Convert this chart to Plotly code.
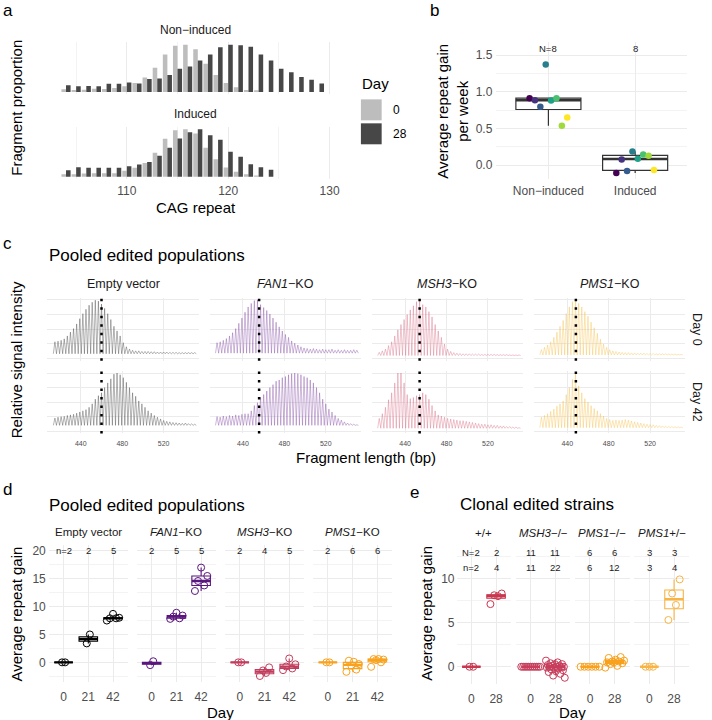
import numpy as np
import plotly.graph_objects as go

# ======================= DATA =======================
# --- panel a: fragment proportions per CAG repeat length
cag_repeat = list(range(104, 130))
nonind_day0 = [0.008, 0.006, 0.007, 0.010, 0.009, 0.012, 0.017, 0.027, 0.044, 0.073, 0.113, 0.140, 0.143,
               0.129, 0.085, 0.051, 0.027, 0.014, 0.006, 0.005, 0, 0, 0, 0, 0, 0]
nonind_day28 = [0.020, 0.017, 0.018, 0.017, 0.025, 0.025, 0.029, 0.026, 0.039, 0.041, 0.051, 0.070, 0.077,
                0.095, 0.113, 0.135, 0.143, 0.141, 0.137, 0.113, 0.095, 0.070, 0.060, 0.045, 0.037, 0.026]
ind_day0 = [0.008, 0.008, 0.010, 0.011, 0.011, 0.011, 0.018, 0.027, 0.042, 0.073, 0.115, 0.141, 0.144,
            0.131, 0.088, 0.053, 0.028, 0.015, 0.008, 0.004, 0, 0, 0, 0, 0, 0]
ind_day28 = [0.020, 0.029, 0.027, 0.027, 0.027, 0.027, 0.032, 0.037, 0.045, 0.064, 0.088, 0.116, 0.135,
             0.144, 0.126, 0.112, 0.076, 0.061, 0.038, 0.029, 0.021, 0, 0, 0, 0, 0]
a_facets = ["Non−induced", "Induced"]
a_days = ["0", "28"]

# --- panel b: average repeat gain per week (8 lines, viridis colours)
b_groups = ["Non−induced", "Induced"]
b_noninduced = [0.914, 0.886, 0.795, 1.373, 0.882, 0.914, 0.536, 0.650]
b_induced = [-0.109, 0.077, -0.082, 0.186, 0.086, 0.145, 0.127, -0.068]

# --- panel c: capillary traces, peak heights every 3 bp
fragment_bp = list(range(415, 551, 3))
c_genes = ["Empty vector", "<i>FAN1</i>−KO", "<i>MSH3</i>−KO", "<i>PMS1</i>−KO"]
c_days = ["Day 0", "Day 42"]
empty_day0 = [0.285, 0.296, 0.31, 0.335, 0.385, 0.45, 0.51, 0.59, 0.68, 0.765, 0.84, 0.91, 0.96, 0.995, 0.98,
              0.93, 0.855, 0.765, 0.665, 0.55, 0.47, 0.385, 0.27, 0.2, 0.16, 0.14, 0.13, 0.13, 0.12, 0.12,
              0.12, 0.115, 0.115, 0.11, 0.11, 0.11, 0.11, 0.105, 0.105, 0.105, 0.1, 0.1, 0.1, 0.1, 0.1, 0.1]
empty_day42 = [0.225, 0.24, 0.25, 0.255, 0.27, 0.28, 0.29, 0.31, 0.33, 0.35, 0.37, 0.41, 0.47, 0.55, 0.61,
               0.66, 0.75, 0.83, 0.9, 0.98, 1.0, 0.97, 0.92, 0.84, 0.75, 0.66, 0.6, 0.52, 0.47, 0.41,
               0.35, 0.31, 0.27, 0.24, 0.21, 0.185, 0.17, 0.16, 0.15, 0.145, 0.14, 0.135, 0.14, 0.13, 0.125, 0.12]
fan1_day0 = [0.27, 0.285, 0.31, 0.34, 0.385, 0.44, 0.51, 0.6, 0.69, 0.79, 0.88, 0.94, 0.99, 1.0, 0.92,
             0.87, 0.82, 0.76, 0.69, 0.62, 0.54, 0.47, 0.41, 0.36, 0.3, 0.26, 0.23, 0.2, 0.18, 0.17,
             0.16, 0.17, 0.16, 0.15, 0.16, 0.15, 0.15, 0.16, 0.14, 0.15, 0.14, 0.15, 0.14, 0.14, 0.15, 0.14]
fan1_day42 = [0.25, 0.24, 0.26, 0.25, 0.27, 0.26, 0.28, 0.27, 0.29, 0.3, 0.3, 0.35, 0.44, 0.49, 0.58,
              0.63, 0.69, 0.75, 0.8, 0.86, 0.88, 0.92, 0.94, 0.97, 0.99, 1.0, 0.99, 0.97, 0.94, 0.92,
              0.88, 0.83, 0.75, 0.66, 0.55, 0.47, 0.38, 0.33, 0.27, 0.22, 0.19, 0.16, 0.14, 0.13, 0.12, 0.11]
msh3_day0 = [0.105, 0.13, 0.16, 0.22, 0.285, 0.385, 0.49, 0.58, 0.665, 0.75, 0.83, 0.9, 0.97, 1.0, 0.92,
             0.88, 0.8, 0.71, 0.58, 0.47, 0.36, 0.245, 0.16, 0.12, 0.1, 0.09, 0.085, 0.08, 0.08, 0.08,
             0.075, 0.075, 0.075, 0.07, 0.07, 0.07, 0.07, 0.07, 0.065, 0.065, 0.065, 0.065, 0.06, 0.06, 0.06, 0.06]
msh3_day42 = [0.22, 0.3, 0.41, 0.54, 0.66, 0.83, 1.0, 1.0, 0.83, 0.63, 0.56, 0.58, 0.61, 0.63, 0.66,
              0.63, 0.55, 0.44, 0.35, 0.28, 0.26, 0.24, 0.22, 0.21, 0.2, 0.19, 0.18, 0.18, 0.17, 0.16,
              0.15, 0.14, 0.13, 0.12, 0.12, 0.11, 0.11, 0.1, 0.1, 0.09, 0.09, 0.08, 0.08, 0.07, 0.07, 0.06]
pms1_day0 = [0.15, 0.19, 0.23, 0.285, 0.36, 0.45, 0.55, 0.65, 0.765, 0.88, 0.97, 1.0, 0.94, 0.88, 0.8,
             0.72, 0.62, 0.525, 0.43, 0.33, 0.245, 0.19, 0.15, 0.13, 0.12, 0.11, 0.105, 0.1, 0.1, 0.095,
             0.095, 0.09, 0.09, 0.09, 0.085, 0.085, 0.085, 0.08, 0.08, 0.08, 0.08, 0.075, 0.075, 0.075, 0.07, 0.07]
pms1_day42 = [0.24, 0.27, 0.3, 0.34, 0.38, 0.43, 0.47, 0.52, 0.63, 0.75, 0.89, 1.0, 0.78, 0.66, 0.56,
              0.5, 0.44, 0.39, 0.35, 0.3, 0.26, 0.22, 0.2, 0.185, 0.19, 0.185, 0.19, 0.2, 0.19, 0.175,
              0.16, 0.15, 0.14, 0.13, 0.12, 0.115, 0.11, 0.1, 0.095, 0.09, 0.085, 0.08, 0.08, 0.075, 0.075, 0.07]
c_peaks = [[empty_day0, empty_day42], [fan1_day0, fan1_day42], [msh3_day0, msh3_day42], [pms1_day0, pms1_day42]]
c_baseline = [[0.08, 0.10], [0.09, 0.10], [0.05, 0.05], [0.06, 0.06]]
c_reference_bp = [460.0, 455.6, 454.0, 448.3]

# --- panel d: pooled populations, repeat gain per day
d_genes = ["Empty vector", "<i>FAN1</i>−KO", "<i>MSH3</i>−KO", "<i>PMS1</i>−KO"]
d_days = ["0", "21", "42"]
d_values = [
    [[0.0, 0.0], [3.4, 5.0], [7.5, 7.9, 7.9, 8.0, 8.7]],
    [[-0.5, 0.2], [7.8, 7.9, 8.2, 8.4, 8.9], [12.8, 13.8, 14.6, 15.5, 17.0]],
    [[0.0, 0.0], [-2.45, -1.9, -1.45, -0.9], [-1.4, -1.1, -0.75, -0.35, 0.7]],
    [[0.0, 0.0], [-1.7, -1.3, -0.6, -0.3, 0.1, 0.3], [-0.8, 0.0, 0.4, 0.5, 0.6, 0.6]],
]

# --- panel e: clonal strains
e_genotypes = ["+/+", "<i>MSH3</i>−/−", "<i>PMS1</i>−/−", "<i>PMS1</i>+/−"]
e_days = ["0", "28"]
e_values = [
    [[0.0, 0.0], [7.1, 8.0, 8.1, 8.3]],
    [[0.0, 0.0, 0.0, 0.0, 0.0, 0.0, 0.0, 0.0, 0.0, 0.0, 0.0],
     [0.7, 0.5, 0.4, 0.3, 0.3, 0.2, 0.1, 0.1, 0.0, 0.0, 0.0, 0.0, -0.1, -0.1, -0.2, -0.3, -0.4, -0.5,
      -0.6, -0.8, -1.0, -1.25]],
    [[0.0, 0.0, 0.0, 0.0, 0.0, 0.0], [-0.1, 0.1, 0.3, 0.4, 0.5, 0.5, 0.6, 0.6, 0.7, 0.8, 1.0, 1.1]],
    [[0.0, 0.0, 0.0], [5.3, 7.0, 8.3, 9.9]],
]
e_strains = [[2, 2], [11, 11], [6, 6], [3, 3]]

# ======================= STYLE =======================
W, H = 712, 720
FONT = "Liberation Sans, Arial, Helvetica, sans-serif"
GRID = "#EBEBEB"
TICKC = "#4D4D4D"
STRIPC = "#1A1A1A"
VIRIDIS8 = ["#440154", "#46337E", "#365C8D", "#277F8E", "#1FA187", "#4AC16D", "#9FDA3A", "#FDE725"]
D_COLORS = ["#000000", "#5A167E", "#C23D5C", "#F9A21E"]
C_COLORS = ["#333333", "#7A3C9E", "#D4607A", "#F5BA3C"]
E_COLORS = ["#C9374F", "#C73D5B", "#F9A11C", "#F8B444"]
DAY_GREYS = ["#BDBDBD", "#474747"]

fig = go.Figure()
axes_layout = {}
annotations = []
shapes = []
_n = [0]


def new_axes(x0, x1, y0, y1, xr, yr, xopt=None, yopt=None):
    _n[0] += 1
    s = "" if _n[0] == 1 else str(_n[0])
    base = dict(showline=False, zeroline=False, ticks="", showgrid=True, gridcolor=GRID, gridwidth=1,
                tickfont=dict(size=12, color=TICKC, family=FONT), fixedrange=True)
    xa = dict(base, domain=[x0 / W, x1 / W], range=xr, anchor="y" + s)
    ya = dict(base, domain=[1 - y1 / H, 1 - y0 / H], range=yr, anchor="x" + s)
    xa.update(xopt or {})
    ya.update(yopt or {})
    axes_layout["xaxis" + s] = xa
    axes_layout["yaxis" + s] = ya
    return "x" + s, "y" + s


def label(text, x, y, size, anchor="center", color="#000000", angle=0, xref="paper", yref="paper"):
    if xref == "paper":
        x = x / W
    if yref == "paper":
        y = 1 - y / H
    annotations.append(dict(text=text, x=x, y=y, xref=xref, yref=yref, xanchor=anchor, yanchor="middle",
                            showarrow=False, textangle=angle,
                            font=dict(size=size, color=color, family=FONT)))


def quartiles(vals):
    v = np.asarray(vals, dtype=float)
    q1, med, q3 = np.percentile(v, [25, 50, 75])
    iqr = q3 - q1
    lo = v[v >= q1 - 1.5 * iqr].min()
    hi = v[v <= q3 + 1.5 * iqr].max()
    return q1, med, q3, lo, hi


def add_box(xa, ya, pos, vals, color, width=0.75, lw=1.1, fill="rgba(255,255,255,0)"):
    q1, med, q3, lo, hi = quartiles(vals)
    fig.add_trace(go.Box(x=[pos], q1=[q1], median=[med], q3=[q3], lowerfence=[lo], upperfence=[hi],
                         width=width, fillcolor=fill, line=dict(color=color, width=lw), whiskerwidth=0,
                         boxpoints=False, xaxis=xa, yaxis=ya, showlegend=False, hoverinfo="skip"))
    fig.add_trace(go.Scatter(x=[pos - width / 2, pos + width / 2], y=[med, med], mode="lines",
                             line=dict(color=color, width=lw * 2.1), xaxis=xa, yaxis=ya,
                             showlegend=False, hoverinfo="skip"))


def jitter(n, w):
    if n == 1:
        return np.array([0.0])
    offs = np.linspace(-w, w, n)
    order = np.argsort([(i * 0.6180339) % 1 for i in range(n)])
    out = np.empty(n)
    out[order] = offs
    return out


# ======================= PANEL a =======================
ymax_a = max(max(nonind_day0), max(nonind_day28), max(ind_day0), max(ind_day28))
a_rows = [(nonind_day0, nonind_day28, 41, 93.5, 29), (ind_day0, ind_day28, 126, 178.4, 113.5)]
for i, (d0, d28, y0, y1, ys) in enumerate(a_rows):
    xa, ya = new_axes(60, 336, y0, y1, [103.34, 130.26], [-0.05 * ymax_a, 1.05 * ymax_a],
                      xopt=dict(tickvals=[110, 120, 130], showticklabels=(i == 1), ticklabelstandoff=3,
                                minor=dict(dtick=5, tick0=0, showgrid=True, gridcolor=GRID, gridwidth=0.6)),
                      yopt=dict(showgrid=False, showticklabels=False))
    for k, vals in enumerate([d0, d28]):
        fig.add_trace(go.Bar(x=cag_repeat, y=vals, width=0.45, offset=-0.45 if k == 0 else 0.0,
                             marker=dict(color=DAY_GREYS[k], line=dict(width=0)),
                             xaxis=xa, yaxis=ya, showlegend=False, hoverinfo="skip"))
    label(a_facets[i], 198, ys, 12, color=STRIPC)
label("CAG repeat", 198, 207, 15)
label("Fragment proportion", 17, 107, 15, angle=-90)
label("a", 1, 10, 17, anchor="left")
# legend
label("Day", 364, 83, 15, anchor="left")
for k, (ytop, ybot) in enumerate([(98.5, 119.5), (122.5, 143.5)]):
    shapes.append(dict(type="rect", xref="paper", yref="paper", x0=365 / W, x1=386 / W,
                       y0=1 - ybot / H, y1=1 - ytop / H, fillcolor=DAY_GREYS[k], line=dict(width=0)))
    label(a_days[k], 395, (ytop + ybot) / 2, 12, anchor="left")

# ======================= PANEL b =======================
xb, yb = new_axes(502, 695, 41.5, 178.5, [0.4, 2.6], [-0.194, 1.675],
                  xopt=dict(tickvals=[1, 2], ticktext=b_groups, ticklabelstandoff=3),
                  yopt=dict(tick0=0, dtick=0.5, tickformat=".1f", ticklabelstandoff=3,
                            minor=dict(dtick=0.25, tick0=0, showgrid=True, gridcolor=GRID, gridwidth=0.6)))
for g, vals in enumerate([b_noninduced, b_induced]):
    pos = g + 1
    add_box(xb, yb, pos, vals, "#333333", lw=1.2, fill="white")
    offs = (np.arange(len(vals)) - (len(vals) - 1) / 2) * 0.062
    fig.add_trace(go.Scatter(x=pos + offs, y=vals, mode="markers",
                             marker=dict(color=VIRIDIS8, size=6.5, line=dict(width=0)),
                             xaxis=xb, yaxis=yb, showlegend=False, hoverinfo="skip"))
    label(("N=" if g == 0 else "") + str(len(vals)), pos, 1.59, 9.5, color=STRIPC, xref=xb, yref=yb)
label("Average repeat gain<br>per week", 458, 110, 15, angle=-90)
label("b", 433, 10, 17, anchor="left")

# ======================= PANEL c =======================
c_rows = [(297, 360.3), (370.2, 433.1)]
for gi in range(4):
    x0 = 48 + 164 * gi
    for di in range(2):
        y0, y1 = c_rows[di]
        xa, ya = new_axes(x0, x0 + 153, y0, y1, [407.8, 553.9], [-0.04, 1.04],
                          xopt=dict(tickvals=[440, 480, 520], showticklabels=(di == 1),
                                    tickfont=dict(size=7, color=TICKC, family=FONT), ticklabelstandoff=5),
                          yopt=dict(tickvals=[0, 0.25, 0.5, 0.75, 1.0], showticklabels=False))
        peaks = c_peaks[gi][di]
        base = c_baseline[gi][di]
        xs, ys = [], []
        for bp, h in zip(fragment_bp, peaks):
            xs += [bp - 1.5, bp]
            ys += [base, h]
        xs.append(fragment_bp[-1] + 1.5)
        ys.append(base)
        fig.add_trace(go.Scatter(x=xs, y=ys, mode="lines", line=dict(color=C_COLORS[gi], width=0.6),
                                 opacity=0.62, xaxis=xa, yaxis=ya, showlegend=False, hoverinfo="skip"))
        shapes.append(dict(type="line", xref=xa, yref=ya + " domain", x0=c_reference_bp[gi],
                           x1=c_reference_bp[gi], y0=0, y1=1,
                           line=dict(color="black", width=2.5, dash="2.5px,6px")))
    label(c_genes[gi], x0 + 76.5, 283, 12.5, color=STRIPC)
for di in range(2):
    y0, y1 = c_rows[di]
    label(c_days[di], 705, (y0 + y1) / 2, 12.5, color=STRIPC, angle=90)
label("Fragment length (bp)", 370.5, 457, 15)
label("Relative signal intensity", 17, 359, 15, angle=-90)
label("c", 1, 243, 17, anchor="left")
label("Pooled edited populations", 48, 255, 17, anchor="left")

# ======================= PANEL d =======================
for gi in range(4):
    x0 = 49.3 + 89.1 * gi
    xa, ya = new_axes(x0, x0 + 80, 544.4, 682.2, [0.4, 3.6], [-3.57, 21.12],
                      xopt=dict(tickvals=[1, 2, 3], ticktext=d_days, ticklabelstandoff=6),
                      yopt=dict(tick0=0, dtick=5, showticklabels=(gi == 0), ticklabelstandoff=2,
                                minor=dict(dtick=2.5, tick0=0, showgrid=True, gridcolor=GRID, gridwidth=0.6)))
    for di, vals in enumerate(d_values[gi]):
        pos = di + 1
        add_box(xa, ya, pos, vals, D_COLORS[gi])
        w = 0.25 * min(1.0, (len(vals) - 1) / 4)
        fig.add_trace(go.Scatter(x=pos + jitter(len(vals), w), y=vals, mode="markers",
                                 marker=dict(symbol="circle-open", size=7, color=D_COLORS[gi],
                                             line=dict(width=1)),
                                 xaxis=xa, yaxis=ya, showlegend=False, hoverinfo="skip"))
        txt = ("n=" if (gi == 0 and di == 0) else "") + str(len(vals))
        label(txt, pos, 20, 9.5, color=STRIPC, xref=xa, yref=ya)
    label(d_genes[gi], x0 + 40, 532, 11.5, color=STRIPC)
label("Day", 223, 712, 15)
label("Average repeat gain", 17, 613.5, 15, angle=-90)
label("d", 1, 489, 17, anchor="left")
label("Pooled edited populations", 48, 505, 17, anchor="left")

# ======================= PANEL e =======================
for gi in range(4):
    x0 = 461.7 + 60 * gi
    xa, ya = new_axes(x0, x0 + 55, 546.5, 684, [0.4, 2.6], [-1.96, 13.6],
                      xopt=dict(tickvals=[1, 2], ticktext=e_days, ticklabelstandoff=6),
                      yopt=dict(tick0=0, dtick=5, showticklabels=(gi == 0), ticklabelstandoff=1,
                                minor=dict(dtick=2.5, tick0=0, showgrid=True, gridcolor=GRID, gridwidth=0.6)))
    for di, vals in enumerate(e_values[gi]):
        pos = di + 1
        add_box(xa, ya, pos, vals, E_COLORS[gi])
        w = 0.38 * min(1.0, (len(vals) - 1) / 5)
        fig.add_trace(go.Scatter(x=pos + jitter(len(vals), w), y=vals, mode="markers",
                                 marker=dict(symbol="circle-open", size=7, color=E_COLORS[gi],
                                             line=dict(width=1)),
                                 xaxis=xa, yaxis=ya, showlegend=False, hoverinfo="skip"))
        first = (gi == 0 and di == 0)
        label(("N=" if first else "") + str(e_strains[gi][di]), pos, 12.9, 9.5, color=STRIPC, xref=xa, yref=ya)
        label(("n=" if first else "") + str(len(vals)), pos, 11.2, 9.5, color=STRIPC, xref=xa, yref=ya)
    label(e_genotypes[gi], x0 + 27.5, 533, 11.5, color=STRIPC)
label("Day", 579, 712, 15)
label("Average repeat gain", 431, 613.5, 15, angle=-90)
label("e", 413, 492, 17, anchor="left")
label("Clonal edited strains", 463, 504.5, 17, anchor="left")

fig.update_layout(width=W, height=H, margin=dict(l=0, r=0, t=0, b=0), paper_bgcolor="white",
                  plot_bgcolor="white", showlegend=False, barmode="overlay", hovermode=False,
                  font=dict(family=FONT, color="#000000"),
                  annotations=annotations, shapes=shapes, **axes_layout)
fig.write_html("out.html", config={"displayModeBar": False, "staticPlot": True},
               post_script="document.body.style.margin='0px';document.body.style.padding='0px';"
                           "document.body.style.overflow='hidden';")
